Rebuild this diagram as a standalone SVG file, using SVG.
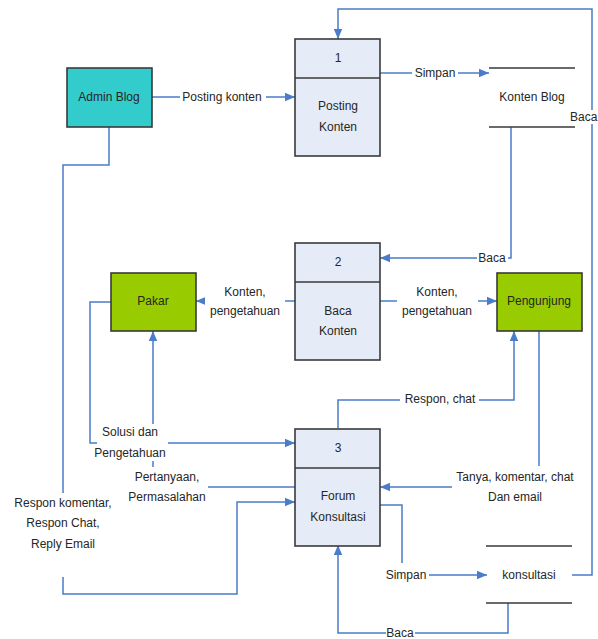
<svg xmlns="http://www.w3.org/2000/svg" width="598" height="639" viewBox="0 0 598 639">
  <style>
    text { font-family: "Liberation Sans", Arial, sans-serif; font-size: 12px; fill: #262626; text-anchor: middle; }
    .proc { fill: #E6ECF7; stroke: #3a3a3a; stroke-width: 1.6; }
    .ext { stroke: #3a3a3a; stroke-width: 1.6; }
    .store { stroke: #3a3a3a; stroke-width: 1.6; fill: none; }
    .flow { fill: none; stroke: #4A7CC9; stroke-width: 1.5; }
    .mask { fill: #ffffff; }
  </style>
  <defs>
    <marker id="arrow" markerUnits="userSpaceOnUse" markerWidth="10" markerHeight="10" viewBox="0 0 10 10" refX="10" refY="5" orient="auto">
      <path d="M0,0.8 L10,5 L0,9.2 Z" fill="#4A7CC9"/>
    </marker>
  </defs>
  <rect width="598" height="639" fill="#ffffff"/>

  <!-- data flows -->
  <g id="connectors">
    <path class="flow" d="M152,97 H295" marker-end="url(#arrow)"/>
    <path class="flow" d="M380,73 H489" marker-end="url(#arrow)"/>
    <path class="flow" d="M572,575 H592 V9 H338 V39" marker-end="url(#arrow)"/>
    <path class="flow" d="M511,127 V258 H380" marker-end="url(#arrow)"/>
    <path class="flow" d="M295,301 H196" marker-end="url(#arrow)"/>
    <path class="flow" d="M380,301 H497" marker-end="url(#arrow)"/>
    <path class="flow" d="M111,302 H90 V443 H295" marker-end="url(#arrow)"/>
    <path class="flow" d="M295,487 H153 V331" marker-end="url(#arrow)"/>
    <path class="flow" d="M109,127 V165 H63 V594 H237 V502 H295" marker-end="url(#arrow)"/>
    <path class="flow" d="M338,428 V400 H514 V331" marker-end="url(#arrow)"/>
    <path class="flow" d="M539,331 V487 H380" marker-end="url(#arrow)"/>
    <path class="flow" d="M380,505 H402 V575 H487" marker-end="url(#arrow)"/>
    <path class="flow" d="M508,603 V633 H338 V545" marker-end="url(#arrow)"/>
  </g>

  <!-- flow labels -->
  <g id="flow-labels">
    <rect class="mask" x="180" y="89" width="86" height="16"/>
    <text x="222" y="101">Posting konten</text>
    <rect class="mask" x="412" y="65" width="46" height="16"/>
    <text x="435" y="77">Simpan</text>
    <rect class="mask" x="578" y="110" width="20" height="14"/>
    <text x="570" y="121" style="text-anchor:start">Baca</text>
    <rect class="mask" x="477" y="250" width="31" height="16"/>
    <text x="492" y="262">Baca</text>
    <rect class="mask" x="205" y="281" width="80" height="39"/>
    <text x="245" y="296">Konten,</text>
    <text x="245" y="315">pengetahuan</text>
    <rect class="mask" x="397" y="281" width="81" height="39"/>
    <text x="437" y="296">Konten,</text>
    <text x="437" y="315">pengetahuan</text>
    <rect class="mask" x="97" y="424" width="71" height="37"/>
    <text x="130" y="436">Solusi dan</text>
    <text x="130" y="457">Pengetahuan</text>
    <rect class="mask" x="125" y="467" width="83" height="39"/>
    <text x="167" y="481">Pertanyaan,</text>
    <text x="167" y="501">Permasalahan</text>
    <rect class="mask" x="10" y="493" width="106" height="84"/>
    <text x="63" y="507">Respon komentar,</text>
    <text x="63" y="527">Respon Chat,</text>
    <text x="63" y="548">Reply Email</text>
    <rect class="mask" x="400" y="392" width="79" height="16"/>
    <text x="440" y="403">Respon, chat</text>
    <rect class="mask" x="452" y="466" width="126" height="40"/>
    <text x="515" y="481">Tanya, komentar, chat</text>
    <text x="515" y="501">Dan email</text>
    <rect class="mask" x="384" y="563" width="45" height="20"/>
    <text x="406" y="579">Simpan</text>
    <rect class="mask" x="386" y="626" width="29" height="13"/>
    <text x="400" y="637">Baca</text>
  </g>

  <!-- external entities -->
  <g id="admin-blog">
    <rect class="ext" x="67" y="68" width="85" height="59" fill="#33CCCC"/>
    <text x="109" y="101">Admin Blog</text>
  </g>
  <g id="pakar">
    <rect class="ext" x="111" y="273" width="85" height="58" fill="#99CC00"/>
    <text x="153" y="305">Pakar</text>
  </g>
  <g id="pengunjung">
    <rect class="ext" x="497" y="273" width="85" height="58" fill="#99CC00"/>
    <text x="539" y="305">Pengunjung</text>
  </g>

  <!-- processes -->
  <g id="process-1">
    <rect class="proc" x="295" y="39" width="85" height="117"/>
    <line class="store" x1="295" y1="78" x2="380" y2="78"/>
    <text x="338" y="62">1</text>
    <text x="338" y="110">Posting</text>
    <text x="338" y="131">Konten</text>
  </g>
  <g id="process-2">
    <rect class="proc" x="295" y="243" width="85" height="117"/>
    <line class="store" x1="295" y1="282" x2="380" y2="282"/>
    <text x="338" y="266">2</text>
    <text x="338" y="315">Baca</text>
    <text x="338" y="335">Konten</text>
  </g>
  <g id="process-3">
    <rect class="proc" x="295" y="429" width="85" height="117"/>
    <line class="store" x1="295" y1="468" x2="380" y2="468"/>
    <text x="338" y="452">3</text>
    <text x="338" y="500">Forum</text>
    <text x="338" y="521">Konsultasi</text>
  </g>

  <!-- data stores -->
  <g id="store-konten-blog">
    <path class="store" d="M489,68 H575 M489,127 H575"/>
    <text x="532" y="101">Konten Blog</text>
  </g>
  <g id="store-konsultasi">
    <path class="store" d="M486,546 H572 M486,603 H572"/>
    <text x="529" y="579">konsultasi</text>
  </g>
</svg>
